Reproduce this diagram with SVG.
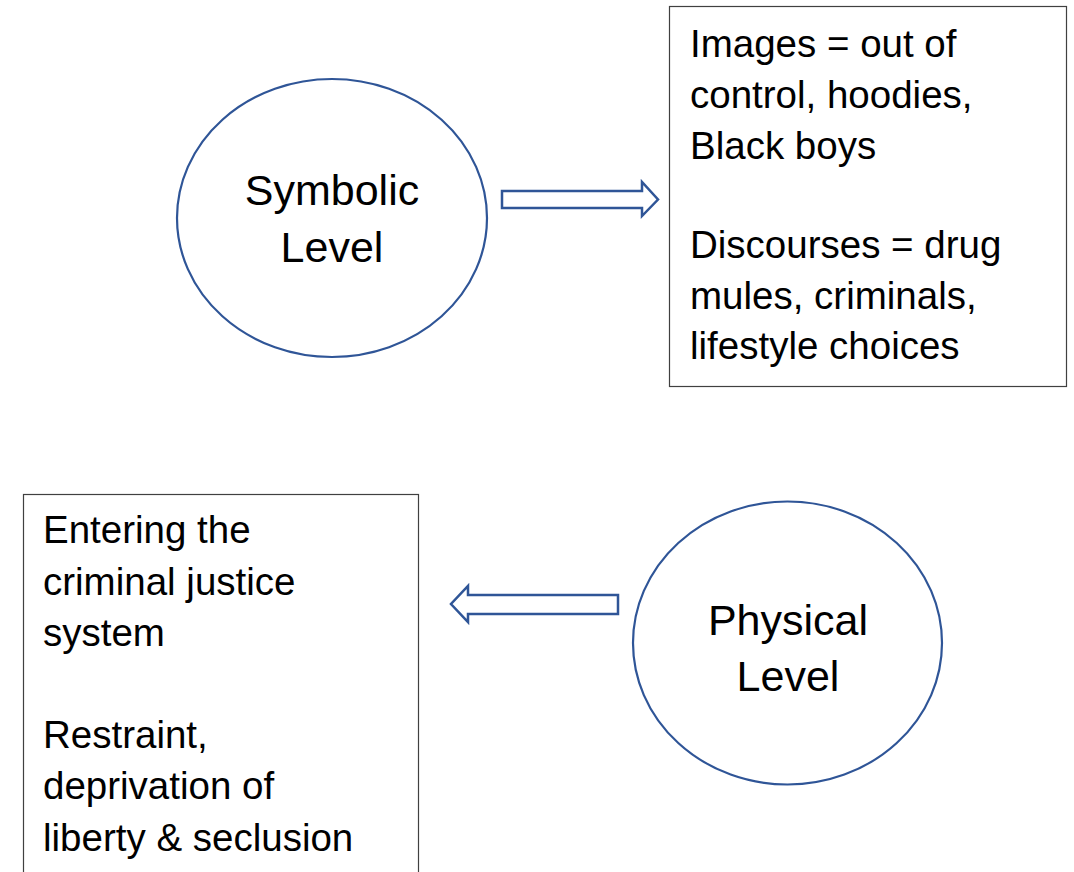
<svg xmlns="http://www.w3.org/2000/svg" width="1074" height="872" viewBox="0 0 1074 872">
  <style>
    .level { fill: #ffffff; stroke: #2f5597; stroke-width: 2.2; }
    .box { fill: #ffffff; stroke: #404040; stroke-width: 1.2; }
    .arrow { fill: #ffffff; stroke: #2f5597; stroke-width: 2.5; stroke-linejoin: miter; }
    .title { font-family: "Liberation Sans", Arial, sans-serif; font-size: 43px; fill: #000000; text-anchor: middle; }
    .body { font-family: "Liberation Sans", Arial, sans-serif; font-size: 38.5px; fill: #000000; }
  </style>
  <rect width="1074" height="872" fill="#ffffff"/>

  <!-- block arrows linking the levels to their descriptions -->
  <g id="connectors">
    <path class="arrow" d="M502,191 L642,191 L642,182 L658,199.5 L642,216 L642,208 L502,208 Z"/>
    <path class="arrow" d="M618,595 L468,595 L468,586 L451,604 L468,622 L468,614 L618,614 Z"/>
  </g>

  <g id="symbolic-level">
    <ellipse class="level" cx="332" cy="218" rx="155" ry="139"/>
    <text class="title" x="332" y="205">Symbolic</text>
    <text class="title" x="332" y="262">Level</text>
  </g>

  <g id="symbolic-description">
    <rect class="box" x="669.5" y="6.5" width="397" height="380"/>
    <text class="body" x="690" y="57">Images = out of</text>
    <text class="body" x="690" y="108">control, hoodies,</text>
    <text class="body" x="690" y="159">Black boys</text>
    <text class="body" x="690" y="258">Discourses = drug</text>
    <text class="body" x="690" y="309">mules, criminals,</text>
    <text class="body" x="690" y="359">lifestyle choices</text>
  </g>

  <g id="physical-level">
    <ellipse class="level" cx="787.5" cy="643" rx="154.5" ry="141.5"/>
    <text class="title" x="788" y="635">Physical</text>
    <text class="title" x="788" y="691">Level</text>
  </g>

  <g id="physical-description">
    <rect class="box" x="23.5" y="494.5" width="395" height="400"/>
    <text class="body" x="43" y="543">Entering the</text>
    <text class="body" x="43" y="595">criminal justice</text>
    <text class="body" x="43" y="646">system</text>
    <text class="body" x="43" y="748">Restraint,</text>
    <text class="body" x="43" y="799">deprivation of</text>
    <text class="body" x="43" y="851">liberty &amp; seclusion</text>
  </g>
</svg>
